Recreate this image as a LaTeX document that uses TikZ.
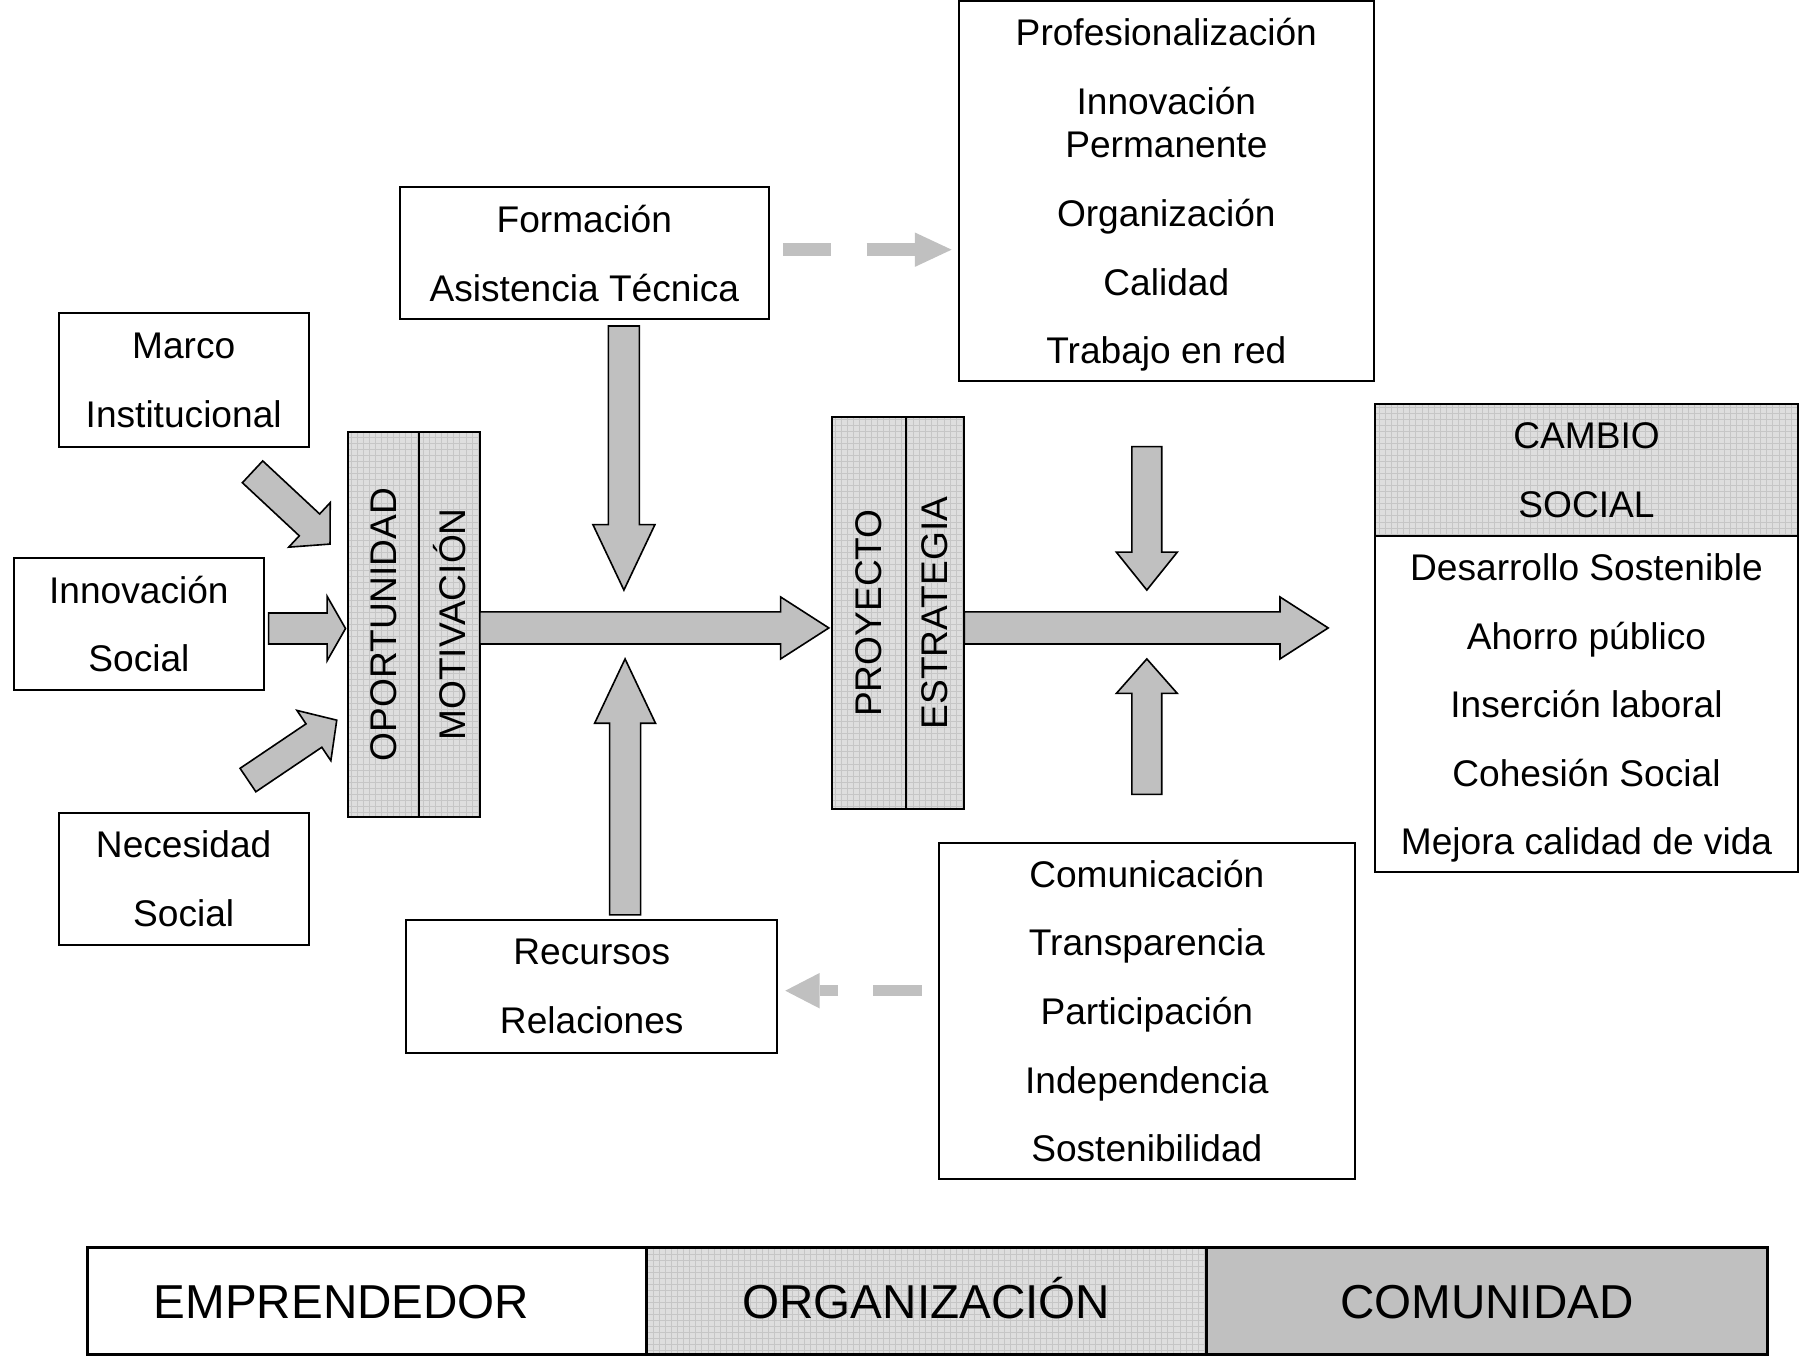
\documentclass[tikz,border=0pt]{standalone}
\usepackage{graphicx}
\usepackage{fontspec}
\setmainfont{Liberation Sans}
\usetikzlibrary{positioning, arrows.meta, patterns}

\definecolor{arrowgray}{HTML}{C0C0C0}
\definecolor{gridbg}{HTML}{DEDEDE}
\definecolor{gridln}{HTML}{C6C6C6}

\tikzset{
  box/.style={draw, line width=1pt, inner sep=0pt, outer sep=0pt, align=center,
    text depth=0pt, font=\fontsize{18.4pt}{21.5pt}\selectfont},
  gridfill/.style={preaction={fill=gridbg}, pattern=grid, pattern color=gridln},
  barcell/.style={box, line width=1.4pt, minimum height=1.86cm, text height=0.6cm,
    font=\fontsize{23.6pt}{26pt}\selectfont},
  arrowbody/.style={fill=arrowgray, draw=black, line width=0.8pt, line join=miter},
  dashcon/.style={draw=arrowgray},
  pics/blockarrow/.style n args={4}{code={
    \draw[arrowbody] (0,-#2) -- ({#1-#3},-#2) -- ({#1-#3},-#4) -- (#1,0)
      -- ({#1-#3},#4) -- ({#1-#3},#2) -- (0,#2) -- cycle;
  }},
}

\newcommand{\gap}{\\[0.44cm]}

\begin{document}
\begin{tikzpicture}[x=0.02cm, y=-0.02cm]
  \useasboundingbox (0,0) rectangle (1568,1187.3);

  % entradas
  \node[box, minimum width=4.36cm, minimum height=2.32cm] (marco) at (160,331) {Marco\gap Institucional};
  \node[box, minimum width=4.36cm, minimum height=2.30cm] (innov) at (121,543.5) {Innovación\gap Social};
  \node[box, minimum width=4.36cm, minimum height=2.30cm] (neces) at (160,765.5) {Necesidad\gap Social};

  % emprendedor
  \node[box, gridfill, minimum width=1.24cm, minimum height=6.72cm] (opor) at (334,544) {\rotatebox{90}{OPORTUNIDAD}};
  \node[box, gridfill, minimum width=1.06cm, minimum height=6.72cm, right=0pt of opor] (motiv) {\rotatebox{90}{MOTIVACIÓN}};

  \node[box, minimum width=6.44cm, minimum height=2.30cm] (form) at (509,220.5) {Formación\gap Asistencia Técnica};
  \node[box, minimum width=6.46cm, minimum height=2.32cm] (recur) at (515.5,859) {Recursos\gap Relaciones};

  % organizacion
  \node[box, gridfill, minimum width=1.28cm, minimum height=6.84cm] (proy) at (757,534) {\rotatebox{90}{PROYECTO}};
  \node[box, gridfill, minimum width=1.02cm, minimum height=6.84cm, right=0pt of proy] (estr) {\rotatebox{90}{ESTRATEGIA}};

  \node[box, minimum width=7.24cm, minimum height=6.62cm] (prof) at (1016,166.5)
    {Profesionalización\gap Innovación\\Permanente\gap Organización\gap Calidad\gap Trabajo en red};
  \node[box, minimum width=7.24cm, minimum height=5.86cm] (comun) at (999,880.5)
    {Comunicación\gap Transparencia\gap Participación\gap Independencia\gap Sostenibilidad};

  % comunidad
  \node[box, gridfill, minimum width=7.36cm, minimum height=2.30cm] (cambio) at (1382,409.5) {CAMBIO\gap SOCIAL};
  \node[box, minimum width=7.36cm, minimum height=5.86cm, below=0pt of cambio] (result)
    {Desarrollo Sostenible\gap Ahorro público\gap Inserción laboral\gap Cohesión Social\gap Mejora calidad de vida};

  % flechas
  \pic at (418,547) {blockarrow={304}{14}{42}{27}};
  \pic at (840,547) {blockarrow={317}{14}{42}{27}};
  \pic[rotate=-90] at (543.5,284) {blockarrow={230}{13.5}{57}{27}};
  \pic[rotate=90] at (544.5,797) {blockarrow={223}{13.5}{56}{26.5}};
  \pic[rotate=-90] at (999,389) {blockarrow={125}{13}{33}{26.5}};
  \pic[rotate=90] at (999,692) {blockarrow={118}{13}{30}{26.5}};
  \pic at (234,547.5) {blockarrow={67}{13.5}{16}{28}};
  \pic[rotate=-43] at (220,411) {blockarrow={92.3}{13}{24.5}{26.5}};
  \pic[rotate=34] at (216,679.5) {blockarrow={93.3}{12.3}{24}{26.4}};

  \draw[dashcon, line width=0.22cm, dash pattern=on 0.84cm off 0.62cm,
    -{Triangle[length=0.64cm, width=0.6cm, line width=0pt]}]
    ([xshift=0.24cm, yshift=0.06cm]form.east) -- ++(2.94cm,0);
  \draw[dashcon, line width=0.2cm, dash pattern=on 0.86cm off 0.6cm,
    -{Triangle[length=0.6cm, width=0.62cm, line width=0pt]}]
    ([xshift=-0.3cm, yshift=0.35cm]comun.west) -- ++(-2.38cm,0);

  % barra inferior
  \node[barcell, minimum width=9.74cm] (emp) at (319.5,1133.5) {EMPRENDEDOR\hspace{0.88cm}};
  \node[barcell, gridfill, minimum width=9.76cm, right=0pt of emp] (org) {ORGANIZACIÓN};
  \node[barcell, fill=arrowgray, minimum width=9.78cm, right=0pt of org] (comu) {COMUNIDAD};

\end{tikzpicture}
\end{document}
